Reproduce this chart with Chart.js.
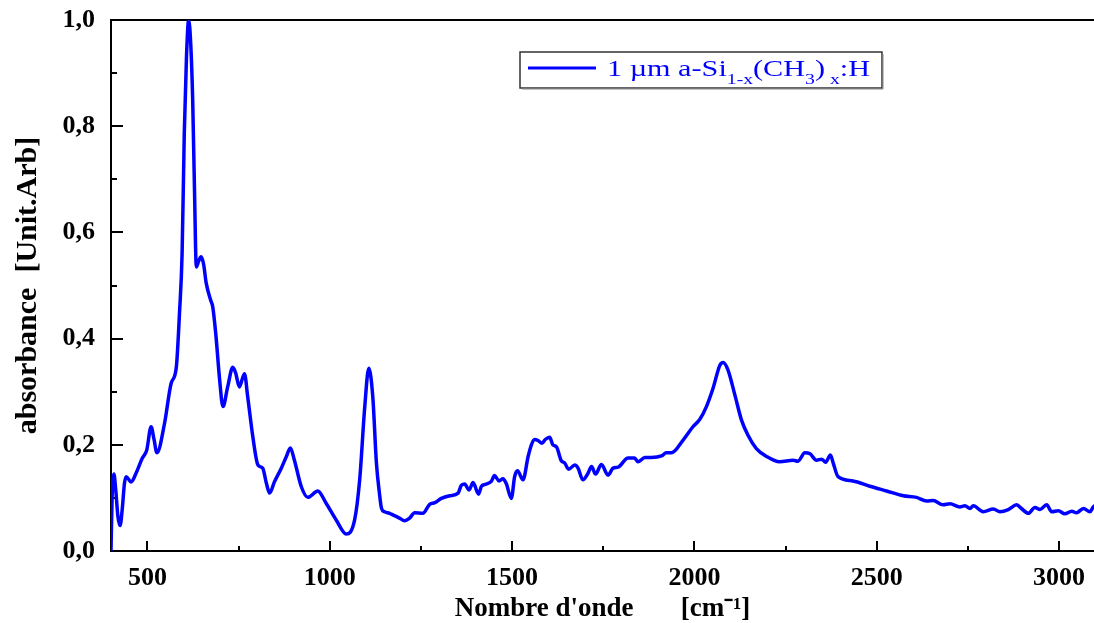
<!DOCTYPE html>
<html>
<head>
<meta charset="utf-8">
<title>Absorbance a-Si1-x(CH3)x:H</title>
<script src="https://cdn.jsdelivr.net/npm/chart.js@4.4.1/dist/chart.umd.min.js"></script>
<style>
  html, body { margin: 0; padding: 0; background: #fff; }
  #wrap { width: 1094px; height: 623px; }
</style>
</head>
<body>
<div id="wrap"><canvas id="spectre" width="1094" height="623"></canvas></div>
<script>
// Spectre IR

const wavenumbers = [
  400, 403, 408, 413, 419, 425, 431, 437, 442, 455, 469, 486, 498, 510, 518, 526,
  547, 565, 579, 588, 595, 601, 607, 613, 619, 624, 629, 634, 640, 647, 654, 661,
  673, 679, 688, 698, 707, 720, 734, 742, 752, 766, 775, 789, 803, 816, 826, 835,
  848, 867, 881, 892, 903, 922, 940, 967, 990, 1018, 1045, 1068, 1082, 1096, 1107,
  1118, 1128, 1136, 1142, 1150, 1164, 1173, 1191, 1205, 1219, 1233, 1255, 1274,
  1288, 1306, 1329, 1352, 1361, 1370, 1382, 1393, 1408, 1416, 1429, 1443, 1452,
  1464, 1475, 1484, 1498, 1507, 1515, 1530, 1544, 1553, 1562, 1571, 1582, 1591,
  1603, 1612, 1622, 1635, 1644, 1655, 1672, 1681, 1694, 1708, 1718, 1729, 1745,
  1763, 1777, 1791, 1818, 1836, 1845, 1864, 1882, 1910, 1923, 1937, 1969, 1996,
  2015, 2033, 2051, 2070, 2079, 2092, 2111, 2129, 2147, 2170, 2198, 2234, 2271,
  2284, 2303, 2317, 2335, 2349, 2360, 2373, 2381, 2394, 2435, 2481, 2527, 2573,
  2609, 2637, 2655, 2682, 2701, 2728, 2742, 2756, 2765, 2792, 2820, 2838, 2861,
  2884, 2897, 2916, 2934, 2948, 2966, 2980, 2998, 3016, 3035, 3048, 3067, 3085,
  3094, 3100
];

const absorbance = [
  0.000, 0.100, 0.145, 0.115, 0.065, 0.048, 0.080, 0.128, 0.140, 0.130, 0.147, 0.175, 0.190, 0.234, 0.210, 0.185,
  0.241, 0.316, 0.345, 0.450, 0.560, 0.787, 0.930, 1.000, 0.950, 0.850, 0.680, 0.535, 0.545, 0.554, 0.540, 0.505,
  0.473, 0.460, 0.404, 0.322, 0.272, 0.309, 0.346, 0.335, 0.309, 0.334, 0.290, 0.215, 0.162, 0.156, 0.128, 0.109,
  0.130, 0.156, 0.178, 0.194, 0.171, 0.121, 0.101, 0.113, 0.090, 0.058, 0.032, 0.058, 0.134, 0.272, 0.344,
  0.290, 0.165, 0.110, 0.080, 0.074, 0.071, 0.068, 0.062, 0.057, 0.062, 0.072, 0.071, 0.088,
  0.091, 0.099, 0.104, 0.109, 0.124, 0.126, 0.115, 0.129, 0.107, 0.122, 0.126, 0.131, 0.142,
  0.132, 0.136, 0.127, 0.099, 0.140, 0.151, 0.134, 0.178, 0.200, 0.210, 0.208, 0.203, 0.210,
  0.214, 0.200, 0.196, 0.170, 0.166, 0.154, 0.162, 0.156, 0.134, 0.146, 0.159, 0.145, 0.163,
  0.143, 0.156, 0.158, 0.175, 0.175, 0.168, 0.176, 0.176, 0.179, 0.185, 0.185, 0.209, 0.234,
  0.248, 0.272, 0.306, 0.350, 0.355, 0.341, 0.294, 0.247, 0.218, 0.193, 0.178, 0.168, 0.171,
  0.169, 0.185, 0.183, 0.171, 0.173, 0.167, 0.181, 0.165, 0.140, 0.132, 0.122, 0.113, 0.104,
  0.101, 0.094, 0.095, 0.087, 0.089, 0.083, 0.085, 0.080, 0.085, 0.074, 0.079, 0.074, 0.078,
  0.087, 0.080, 0.071, 0.082, 0.078, 0.087, 0.074, 0.076, 0.070, 0.075, 0.072, 0.080, 0.074,
  0.083, 0.086
];

const xTickValues = [500, 1000, 1500, 2000, 2500, 3000];
const xMinorTicks = [750, 1250, 1750, 2250, 2750];
const yTickValues = [0, 0.2, 0.4, 0.6, 0.8, 1.0];
const yMinorTicks = [0.1, 0.3, 0.5, 0.7, 0.9];

const serif = "'Liberation Serif', 'Times New Roman', serif";

// graduations vers l'intérieur + cadre du haut
const innerTicks = {
    id: 'innerTicks',
    beforeDatasetsDraw(chart) {
        const { ctx, chartArea: a, scales: { x, y } } = chart;
        ctx.save();
        ctx.strokeStyle = '#000';
        ctx.lineWidth = 2;
        ctx.beginPath();
        xTickValues.forEach(v => {
            const px = Math.round(x.getPixelForValue(v));
            ctx.moveTo(px, a.bottom); ctx.lineTo(px, a.bottom - 10);
        });
        xMinorTicks.forEach(v => {
            const px = Math.round(x.getPixelForValue(v));
            ctx.moveTo(px, a.bottom); ctx.lineTo(px, a.bottom - 5);
        });
        yTickValues.forEach(v => {
            const py = Math.round(y.getPixelForValue(v));
            ctx.moveTo(a.left, py); ctx.lineTo(a.left + 12, py);
        });
        yMinorTicks.forEach(v => {
            const py = Math.round(y.getPixelForValue(v));
            ctx.moveTo(a.left, py); ctx.lineTo(a.left + 6, py);
        });
        ctx.moveTo(a.left - 1, a.top);
        ctx.lineTo(a.right, a.top);
        ctx.stroke();
        ctx.restore();
    }
};

// légende avec indices
const legendLabel = [
    { t: '1 \u00b5m a-Si', sub: false },
    { t: '1-x', sub: true },
    { t: '(CH', sub: false },
    { t: '3', sub: true },
    { t: ')', sub: false },
    { t: ' x', sub: true },
    { t: ':H', sub: false }
];

const subLegend = {
    id: 'subLegend',
    afterDraw(chart) {
        const ctx = chart.ctx;
        const box = { x: 520, y: 52, w: 362, h: 36 };
        ctx.save();
        ctx.fillStyle = '#fff';
        ctx.fillRect(box.x, box.y, box.w, box.h);
        ctx.strokeStyle = '#333';
        ctx.lineWidth = 1.5;
        ctx.strokeRect(box.x, box.y, box.w, box.h);
        // petite ombre à droite et en bas
        ctx.beginPath();
        ctx.moveTo(box.x + box.w + 1, box.y + 2);
        ctx.lineTo(box.x + box.w + 1, box.y + box.h + 1);
        ctx.lineTo(box.x + 2, box.y + box.h + 1);
        ctx.strokeStyle = '#888';
        ctx.lineWidth = 1;
        ctx.stroke();

        ctx.strokeStyle = '#0000ff';
        ctx.lineWidth = 3;
        ctx.beginPath();
        ctx.moveTo(528, 68);
        ctx.lineTo(596, 68);
        ctx.stroke();

        const big = '23px ' + serif;
        const small = '15px ' + serif;
        let w = 0;
        legendLabel.forEach(p => {
            ctx.font = p.sub ? small : big;
            w += ctx.measureText(p.t).width;
        });
        const sx = 263 / w;
        ctx.translate(607, 76);
        ctx.scale(sx, 1);
        ctx.fillStyle = '#0000ff';
        ctx.textBaseline = 'alphabetic';
        let cx = 0;
        legendLabel.forEach(p => {
            ctx.font = p.sub ? small : big;
            ctx.fillText(p.t, cx, p.sub ? 8 : 0);
            cx += ctx.measureText(p.t).width;
        });
        ctx.restore();
    }
};

const points = wavenumbers.map((w, i) => ({ x: w, y: absorbance[i] }));

new Chart(document.getElementById('spectre'), {
    type: 'line',
    data: {
        datasets: [{
            label: '1 \u00b5m a-Si1-x(CH3)x:H',
            data: points,
            borderColor: '#0000ff',
            borderWidth: 3.5,
            pointRadius: 0,
            fill: false,
            cubicInterpolationMode: 'monotone'
        }]
    },
    options: {
        responsive: false,
        animation: false,
        devicePixelRatio: 1,
        layout: { padding: { top: 20, right: 0, left: 0, bottom: 0 } },
        plugins: {
            legend: { display: false },
            tooltip: { enabled: false }
        },
        scales: {
            x: {
                type: 'linear',
                min: 400,
                max: 3096,
                afterBuildTicks: s => { s.ticks = xTickValues.map(v => ({ value: v })); },
                afterFit: s => {
                    s.height = 72;
                    s.paddingLeft = 0;
                    s.paddingRight = 0;
                },
                grid: { display: false, drawTicks: false },
                border: { display: true, color: '#000', width: 2 },
                ticks: {
                    padding: 12,
                    color: '#000',
                    maxRotation: 0,
                    font: { family: serif, size: 26, weight: 'bold' },
                    callback: v => String(v)
                },
                title: {
                    display: true,
                    text: "Nombre d'onde       [cm\u207b\u00b9]",
                    color: '#000',
                    font: { family: serif, size: 27, weight: 'bold' },
                    padding: { top: 0, bottom: -2 }
                }
            },
            y: {
                min: 0,
                max: 1,
                afterBuildTicks: s => { s.ticks = yTickValues.map(v => ({ value: v })); },
                afterFit: s => {
                    s.width = 111;
                    s.paddingTop = 0;
                    s.paddingBottom = 0;
                },
                grid: { display: false, drawTicks: false },
                border: { display: true, color: '#000', width: 2 },
                ticks: {
                    padding: 16,
                    color: '#000',
                    font: { family: serif, size: 26, weight: 'bold' },
                    callback: v => v.toFixed(1).replace('.', ',')
                },
                title: {
                    display: true,
                    text: 'absorbance  [Unit.Arb]',
                    color: '#000',
                    font: { family: serif, size: 30, weight: 'bold' },
                    padding: { top: 10, bottom: 0 }
                }
            }
        }
    },
    plugins: [innerTicks, subLegend]
});
</script>
</body>
</html>
